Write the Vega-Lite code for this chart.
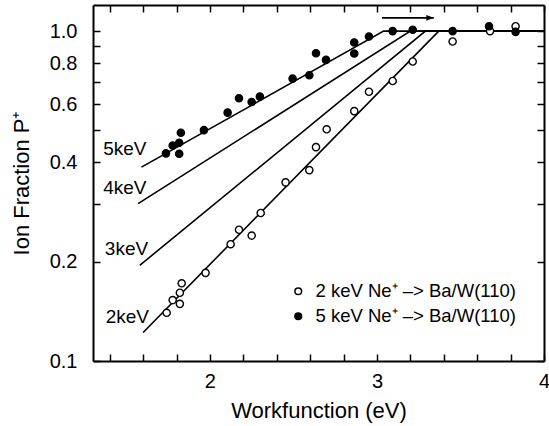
{
  "$schema": "https://vega.github.io/schema/vega-lite/v6.json",
  "width": 451,
  "height": 356,
  "autosize": {"type": "none"},
  "padding": {"left": 93, "top": 5, "right": 5, "bottom": 65},
  "background": "white",
  "config": {
    "view": {"stroke": null},
    "font": "Liberation Sans",
    "axis": {
      "grid": false,
      "domainColor": "black",
      "domainWidth": 2,
      "tickColor": "black",
      "tickWidth": 1.5,
      "tickSize": -7,
      "labelFont": "Liberation Sans",
      "labelFontSize": 20,
      "labelColor": "black",
      "labelFlush": false,
      "labelOverlap": false,
      "titleFont": "Liberation Sans",
      "titleFontSize": 22,
      "titleFontWeight": "normal",
      "titleColor": "black"
    }
  },
  "datasets": {
    "lines": [
      {"energy": "5", "x": 1.59, "y": 0.387},
      {"energy": "5", "x": 3.04, "y": 1.0},
      {"energy": "5", "x": 4.0, "y": 1.0},
      {"energy": "4", "x": 1.57, "y": 0.3},
      {"energy": "4", "x": 3.2, "y": 1.0},
      {"energy": "4", "x": 4.0, "y": 1.0},
      {"energy": "3", "x": 1.58, "y": 0.195},
      {"energy": "3", "x": 3.29, "y": 1.0},
      {"energy": "3", "x": 4.0, "y": 1.0},
      {"energy": "2", "x": 1.6, "y": 0.122},
      {"energy": "2", "x": 3.37, "y": 1.0},
      {"energy": "2", "x": 4.0, "y": 1.0}
    ],
    "points": [
      {"series": "2 keV Ne⁺ –> Ba/W(110)", "x": 1.741, "y": 0.14},
      {"series": "2 keV Ne⁺ –> Ba/W(110)", "x": 1.777, "y": 0.153},
      {"series": "2 keV Ne⁺ –> Ba/W(110)", "x": 1.82, "y": 0.149},
      {"series": "2 keV Ne⁺ –> Ba/W(110)", "x": 1.82, "y": 0.161},
      {"series": "2 keV Ne⁺ –> Ba/W(110)", "x": 1.831, "y": 0.172},
      {"series": "2 keV Ne⁺ –> Ba/W(110)", "x": 1.974, "y": 0.185},
      {"series": "2 keV Ne⁺ –> Ba/W(110)", "x": 2.124, "y": 0.226},
      {"series": "2 keV Ne⁺ –> Ba/W(110)", "x": 2.174, "y": 0.25},
      {"series": "2 keV Ne⁺ –> Ba/W(110)", "x": 2.25, "y": 0.24},
      {"series": "2 keV Ne⁺ –> Ba/W(110)", "x": 2.304, "y": 0.281},
      {"series": "2 keV Ne⁺ –> Ba/W(110)", "x": 2.453, "y": 0.348},
      {"series": "2 keV Ne⁺ –> Ba/W(110)", "x": 2.595, "y": 0.379},
      {"series": "2 keV Ne⁺ –> Ba/W(110)", "x": 2.635, "y": 0.445},
      {"series": "2 keV Ne⁺ –> Ba/W(110)", "x": 2.699, "y": 0.504},
      {"series": "2 keV Ne⁺ –> Ba/W(110)", "x": 2.864, "y": 0.572},
      {"series": "2 keV Ne⁺ –> Ba/W(110)", "x": 2.952, "y": 0.655},
      {"series": "2 keV Ne⁺ –> Ba/W(110)", "x": 3.094, "y": 0.706},
      {"series": "2 keV Ne⁺ –> Ba/W(110)", "x": 3.214, "y": 0.809},
      {"series": "2 keV Ne⁺ –> Ba/W(110)", "x": 3.453, "y": 0.93},
      {"series": "2 keV Ne⁺ –> Ba/W(110)", "x": 3.677, "y": 1.0},
      {"series": "2 keV Ne⁺ –> Ba/W(110)", "x": 3.83, "y": 1.035},
      {"series": "5 keV Ne⁺ –> Ba/W(110)", "x": 1.737, "y": 0.426},
      {"series": "5 keV Ne⁺ –> Ba/W(110)", "x": 1.777, "y": 0.45},
      {"series": "5 keV Ne⁺ –> Ba/W(110)", "x": 1.816, "y": 0.459},
      {"series": "5 keV Ne⁺ –> Ba/W(110)", "x": 1.826, "y": 0.492},
      {"series": "5 keV Ne⁺ –> Ba/W(110)", "x": 1.816, "y": 0.425},
      {"series": "5 keV Ne⁺ –> Ba/W(110)", "x": 1.964, "y": 0.501},
      {"series": "5 keV Ne⁺ –> Ba/W(110)", "x": 2.106, "y": 0.566},
      {"series": "5 keV Ne⁺ –> Ba/W(110)", "x": 2.174, "y": 0.626},
      {"series": "5 keV Ne⁺ –> Ba/W(110)", "x": 2.25, "y": 0.61},
      {"series": "5 keV Ne⁺ –> Ba/W(110)", "x": 2.299, "y": 0.633},
      {"series": "5 keV Ne⁺ –> Ba/W(110)", "x": 2.495, "y": 0.718},
      {"series": "5 keV Ne⁺ –> Ba/W(110)", "x": 2.595, "y": 0.735},
      {"series": "5 keV Ne⁺ –> Ba/W(110)", "x": 2.635, "y": 0.857},
      {"series": "5 keV Ne⁺ –> Ba/W(110)", "x": 2.695, "y": 0.818},
      {"series": "5 keV Ne⁺ –> Ba/W(110)", "x": 2.864, "y": 0.924},
      {"series": "5 keV Ne⁺ –> Ba/W(110)", "x": 2.864, "y": 0.855},
      {"series": "5 keV Ne⁺ –> Ba/W(110)", "x": 2.952, "y": 0.963},
      {"series": "5 keV Ne⁺ –> Ba/W(110)", "x": 3.094, "y": 1.0},
      {"series": "5 keV Ne⁺ –> Ba/W(110)", "x": 3.214, "y": 1.01},
      {"series": "5 keV Ne⁺ –> Ba/W(110)", "x": 3.453, "y": 1.0},
      {"series": "5 keV Ne⁺ –> Ba/W(110)", "x": 3.671, "y": 1.035},
      {"series": "5 keV Ne⁺ –> Ba/W(110)", "x": 3.83, "y": 0.995}
    ],
    "labels": [
      {"label": "5keV", "x": 1.62, "y": 0.44},
      {"label": "4keV", "x": 1.62, "y": 0.335},
      {"label": "3keV", "x": 1.63, "y": 0.218},
      {"label": "2keV", "x": 1.635, "y": 0.1355}
    ],
    "arrow": [
      {"x": 3.03, "x2": 3.34, "y": 1.097}
    ]
  },
  "layer": [
    {
      "data": {"name": "lines"},
      "mark": {"type": "line", "color": "black", "strokeWidth": 1.6},
      "encoding": {
        "x": {
          "field": "x", "type": "quantitative",
          "scale": {"domain": [1.3, 4.0], "nice": false, "zero": false},
          "axis": {
            "orient": "bottom",
            "values": [1.4, 1.6, 1.8, 2, 2.2, 2.4, 2.6, 2.8, 3, 3.2, 3.4, 3.6, 3.8, 4],
            "labelExpr": "abs(datum.value - round(datum.value)) < 0.001 ? format(datum.value, 'd') : ''",
            "labelPadding": 17,
            "title": "Workfunction (eV)",
            "titlePadding": 9
          }
        },
        "y": {
          "field": "y", "type": "quantitative",
          "scale": {"type": "log", "domain": [0.1, 1.2], "nice": false},
          "axis": {
            "orient": "left",
            "values": [0.1, 0.2, 0.3, 0.4, 0.5, 0.6, 0.7, 0.8, 0.9, 1.0],
            "labelExpr": "indexof([0.1, 0.2, 0.4, 0.6, 0.8, 1], round(datum.value * 10) / 10) >= 0 ? format(datum.value, '.1f') : ''",
            "labelPadding": 23,
            "title": "Ion Fraction P⁺",
            "titlePadding": 16
          }
        },
        "detail": {"field": "energy", "type": "nominal"}
      }
    },
    {
      "data": {"name": "points"},
      "mark": {"type": "point", "shape": "circle", "filled": true, "stroke": "black", "strokeWidth": 1.4, "opacity": 1, "fillOpacity": 1, "strokeOpacity": 1, "size": 52},
      "encoding": {
        "x": {
          "field": "x", "type": "quantitative",
          "axis": {
            "orient": "top",
            "values": [1.4, 1.6, 1.8, 2, 2.2, 2.4, 2.6, 2.8, 3, 3.2, 3.4, 3.6, 3.8, 4],
            "labels": false, "title": null
          }
        },
        "y": {
          "field": "y", "type": "quantitative",
          "axis": {
            "orient": "right",
            "values": [0.1, 0.2, 0.3, 0.4, 0.5, 0.6, 0.7, 0.8, 0.9, 1.0],
            "labels": false, "title": null
          }
        },
        "fill": {
          "field": "series", "type": "nominal",
          "scale": {"domain": ["2 keV Ne⁺ –> Ba/W(110)", "5 keV Ne⁺ –> Ba/W(110)"], "range": ["white", "black"]},
          "legend": {
            "orient": "none",
            "legendX": 196,
            "legendY": 277,
            "title": null,
            "padding": 0,
            "labelFont": "Liberation Sans",
            "labelFontSize": 18.5,
            "labelColor": "black",
            "labelOffset": 8,
            "labelLimit": 400,
            "symbolType": "circle",
            "symbolSize": 45,
            "symbolStrokeColor": "black",
            "symbolStrokeWidth": 1.5,
            "symbolOpacity": 1,
            "rowPadding": 6
          }
        }
      }
    },
    {
      "data": {"name": "labels"},
      "mark": {"type": "text", "align": "right", "baseline": "middle", "font": "Liberation Sans", "fontSize": 19, "color": "black"},
      "encoding": {
        "x": {"field": "x", "type": "quantitative", "axis": null},
        "y": {"field": "y", "type": "quantitative", "axis": null},
        "text": {"field": "label"}
      }
    },
    {
      "data": {"name": "arrow"},
      "mark": {"type": "rule", "color": "black", "strokeWidth": 1.6},
      "encoding": {
        "x": {"field": "x", "type": "quantitative", "axis": null},
        "x2": {"field": "x2"},
        "y": {"field": "y", "type": "quantitative", "axis": null}
      }
    },
    {
      "data": {"name": "arrow"},
      "mark": {"type": "point", "shape": "M0,0L-1,-0.4L-1,0.4Z", "filled": true, "color": "black", "opacity": 1, "size": 220},
      "encoding": {
        "x": {"field": "x2", "type": "quantitative", "axis": null},
        "y": {"field": "y", "type": "quantitative", "axis": null}
      }
    }
  ],
  "resolve": {"axis": {"x": "independent", "y": "independent"}}
}
